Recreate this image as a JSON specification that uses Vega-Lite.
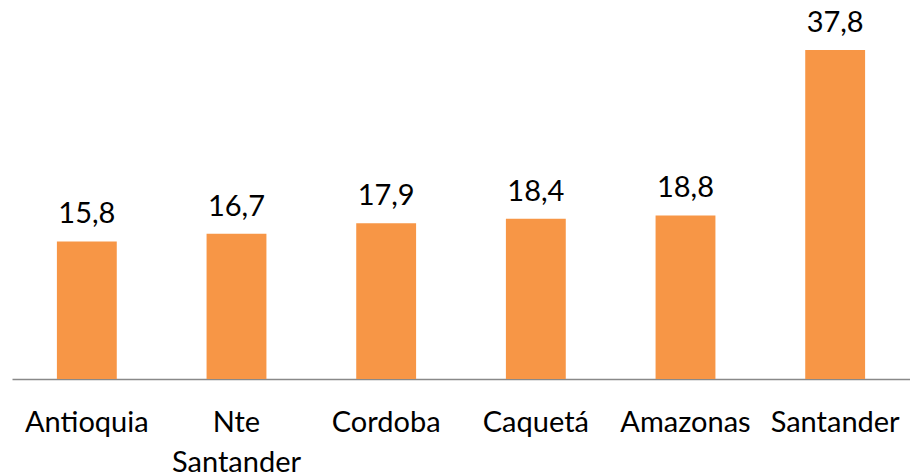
{
  "$schema": "https://vega.github.io/schema/vega-lite/v6.json",
  "autosize": "none",
  "width": 898,
  "height": 379,
  "padding": {"left": 12, "top": 0, "right": 0, "bottom": 96},
  "background": "white",
  "config": {"view": {"stroke": null}, "font": "Lato"},
  "data": {"values": [
    {"dep": "Antioquia", "valor": 15.8, "etiqueta": "15,8"},
    {"dep": "Nte Santander", "valor": 16.7, "etiqueta": "16,7"},
    {"dep": "Cordoba", "valor": 17.9, "etiqueta": "17,9"},
    {"dep": "Caquetá", "valor": 18.4, "etiqueta": "18,4"},
    {"dep": "Amazonas", "valor": 18.8, "etiqueta": "18,8"},
    {"dep": "Santander", "valor": 37.8, "etiqueta": "37,8"}
  ]},
  "encoding": {
    "x": {
      "field": "dep", "type": "nominal", "sort": null,
      "scale": {"paddingInner": 0.6, "paddingOuter": 0.3},
      "axis": {
        "title": null, "labelAngle": 0, "ticks": false,
        "domainColor": "#898989", "domainWidth": 1.5,
        "labelFont": "Lato", "labelFontSize": 29, "labelColor": "#000000",
        "labelBaseline": "alphabetic", "labelPadding": 52, "labelLineHeight": 40,
        "labelExpr": "datum.value == 'Nte Santander' ? ['Nte', 'Santander'] : datum.label",
        "labelOverlap": false, "labelBound": false, "labelFlush": false
      }
    },
    "y": {
      "field": "valor", "type": "quantitative",
      "scale": {"domain": [0, 43.55], "nice": false, "zero": true},
      "axis": null
    }
  },
  "layer": [
    {"mark": {"type": "bar", "color": "#F79646"}},
    {
      "mark": {"type": "text", "baseline": "alphabetic", "dy": -18, "fontSize": 29, "font": "Lato", "color": "#000000"},
      "encoding": {"text": {"field": "etiqueta"}}
    }
  ]
}
